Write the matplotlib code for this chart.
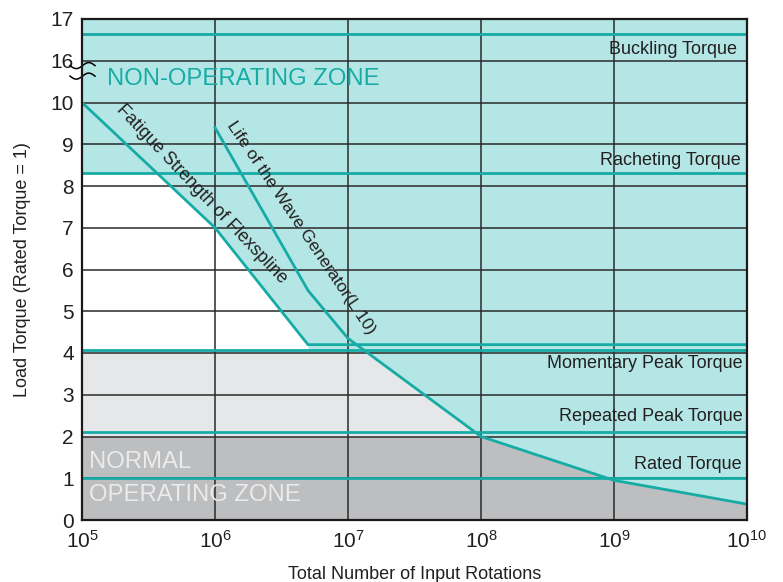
import numpy as np
import matplotlib
matplotlib.use("Agg")
import matplotlib.pyplot as plt

plt.rcParams['font.family'] = ['Liberation Sans', 'DejaVu Sans']
plt.rcParams['mathtext.fontset'] = 'custom'
plt.rcParams['mathtext.rm'] = 'Liberation Sans'
plt.rcParams['mathtext.it'] = 'Liberation Sans'

# --- data (torque in rated-torque units, x in input rotations) ---
fatigue_x = [1e5, 1e6, 5e6, 1e10]
fatigue_y = [10.0, 7.0, 4.2, 4.2]

life_x = [1e6, 5e6, 1e7, 1e8, 1e9, 1e10]
life_y = [9.4, 5.5, 4.35, 2.0, 0.95, 0.38]

levels = {
    'Buckling Torque': 16.63,
    'Racheting Torque': 8.3,
    'Momentary Peak Torque': 4.07,
    'Repeated Peak Torque': 2.1,
    'Rated Torque': 1.0,
}

ytick_vals = [0, 1, 2, 3, 4, 5, 6, 7, 8, 9, 10, 16, 17]
xtick_vals = [1e5, 1e6, 1e7, 1e8, 1e9, 1e10]

TEAL = '#b3e6e4'
LINE = '#17aba6'
LGREY = '#e6e7e8'
DGREY = '#bdbec0'
TXT = '#231f20'


def ypos(v):
    # broken axis: 0..10 linear, then 16 -> 11, 17 -> 12
    v = np.asarray(v, dtype=float)
    return np.where(v <= 10, v, v - 5)


fig = plt.figure(figsize=(7.83, 5.82), dpi=100)
ax = fig.add_axes([82 / 783, 62 / 582, 665 / 783, 501 / 582])
ax.set_xscale('log')
ax.set_xlim(1e5, 1e10)
ax.set_ylim(0, 12)
ax.set_facecolor(TEAL)

# zones
ax.axhspan(0, 2, color=DGREY, lw=0, zorder=1)
ax.axhspan(2, levels['Momentary Peak Torque'], color=LGREY, lw=0, zorder=1)
ax.fill_between(fatigue_x[:3], levels['Momentary Peak Torque'], ypos(fatigue_y[:3]),
                color='white', lw=0, zorder=1)
ax.axhspan(ypos(levels['Racheting Torque']), 12, color=TEAL, lw=0, zorder=1.5)
ax.fill_between(life_x, ypos(life_y), 12, color=TEAL, lw=0, zorder=1.5)

# grid
for v in ytick_vals:
    ax.axhline(ypos(v), color='#2a2a2a', lw=1.1, zorder=2)
for v in xtick_vals:
    ax.axvline(v, color='#2a2a2a', lw=1.1, zorder=2)

# curves
ax.plot(fatigue_x, ypos(fatigue_y), color=LINE, lw=2, zorder=3)
ax.plot(life_x, ypos(life_y), color=LINE, lw=2, zorder=3)
for name, v in levels.items():
    ax.axhline(ypos(v), color=LINE, lw=2, zorder=3)

# level labels
label_pos = {
    'Buckling Torque': (8.4e9, 16.28),
    'Racheting Torque': (9.0e9, 8.6),
    'Momentary Peak Torque': (9.3e9, 3.74),
    'Repeated Peak Torque': (9.3e9, 2.47),
    'Rated Torque': (9.17e9, 1.32),
}
for name, (lx, lv) in label_pos.items():
    ax.text(lx, ypos(lv), name, ha='right', va='center', fontsize=13,
            color=TXT, zorder=5)

ax.text(1.54e5, 10.56, 'NON-OPERATING ZONE', fontsize=17.2, color=LINE,
        ha='left', va='center', zorder=5)
ax.text(1.12e5, 1.38, 'NORMAL', fontsize=17.2, color='#ebebeb',
        ha='left', va='center', zorder=5)
ax.text(1.12e5, 0.6, 'OPERATING ZONE', fontsize=17.2, color='#ebebeb',
        ha='left', va='center', zorder=5)

ax.text(10 ** 5.9, ypos(7.8), 'Fatigue Strength of Flexspline', fontsize=13,
        color=TXT, rotation=-46.5, rotation_mode='anchor',
        ha='center', va='center', zorder=5)
ax.text(10 ** 6.65, ypos(7.0), 'Life of the Wave Generator(L 10)', fontsize=12.5,
        color=TXT, rotation=-56, rotation_mode='anchor',
        ha='center', va='center', zorder=5)

# axis break squiggles
t = np.linspace(0, 1, 60)
for yc in (0.907, 0.886):
    xs = (-12 + 25 * t) / 665
    ys = yc + 3 / 501 * np.sin(2 * np.pi * t + np.pi)
    ax.plot(xs, ys, color='black', lw=1.1, transform=ax.transAxes,
            clip_on=False, zorder=6)

# ticks
ax.set_yticks(ypos(ytick_vals))
ax.set_yticklabels([str(v) for v in ytick_vals], fontsize=15, color=TXT)
ax.set_xticks(xtick_vals)
ax.set_xticklabels([r'$10^{%d}$' % int(np.log10(v)) for v in xtick_vals],
                   fontsize=15, color=TXT)
ax.minorticks_off()
ax.tick_params(axis='x', length=0, pad=7)
ax.tick_params(axis='y', length=0, pad=6)

for s in ax.spines.values():
    s.set_linewidth(1.6)
    s.set_color('#1a1a1a')
    s.set_zorder(6)

ax.set_xlabel('Total Number of Input Rotations', fontsize=13, color=TXT, labelpad=10)
ax.set_ylabel('Load Torque (Rated Torque = 1)', fontsize=13, color=TXT, labelpad=14)

fig.savefig('out.png', dpi=100)
